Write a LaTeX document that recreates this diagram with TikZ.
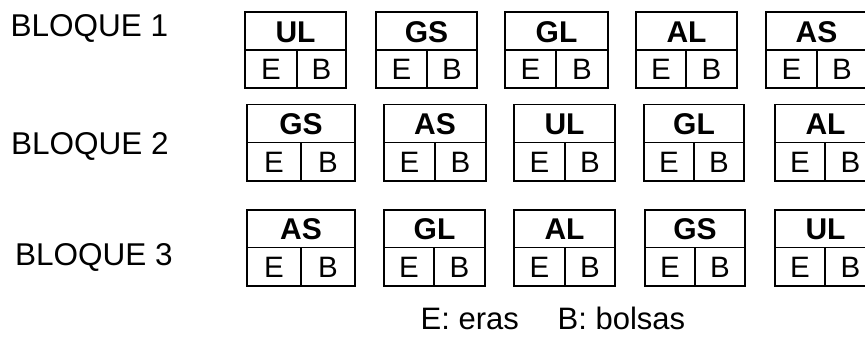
\documentclass[tikz,border=0pt]{standalone}
\usepackage{fontspec}
\setmainfont{Liberation Sans}
\newcommand\parcela[8]{%
  \draw[boxline] (#2,#5) rectangle (#4,#7);
  \draw[boxline] (#2,#6) -- (#4,#6);
  \draw[boxline] (#3,#6) -- (#3,#7);
  \node[toplbl] (#1) at ({(#2+#4)/2},{(#5+#6)/2+11}) {#8};
  \node[celllbl] (#1E) at ({(#2+#3)/2},{(#6+#7)/2+10.5}) {E};
  \node[celllbl] (#1B) at ({(#3+#4)/2},{(#6+#7)/2+10.5}) {B};
}
\begin{document}
\begin{tikzpicture}[x=1pt,y=-1pt,
  boxline/.style={line width=1.5pt},
  toplbl/.style={anchor=base,inner sep=0pt,font=\fontsize{30}{36}\selectfont\bfseries},
  celllbl/.style={anchor=base,inner sep=0pt,font=\fontsize{29.5}{35}\selectfont},
  rowlbl/.style={anchor=base west,inner sep=0pt,font=\fontsize{31.5}{38}\selectfont},
  legend/.style={anchor=base west,inner sep=0pt,font=\fontsize{31}{37}\selectfont}]
\useasboundingbox (0,0) rectangle (865,341);
\clip (0,0) rectangle (865,341);
% row labels
\node[rowlbl] (b1) at (10.5,36.7) {BLOQUE 1};
\node[rowlbl] (b2) at (11,154.3) {BLOQUE 2};
\node[rowlbl] (b3) at (15,265.3) {BLOQUE 3};
% row 1
\parcela{ra}{245}{297}{346}{12}{50}{88}{UL}
\parcela{rb}{376}{427}{477}{12}{50}{88}{GS}
\parcela{rc}{505}{556}{608}{12}{50}{88}{GL}
\parcela{rd}{636}{686}{737}{12}{50}{88}{AL}
\parcela{re}{766}{817}{867}{12}{50}{88}{AS}
% row 2
\parcela{sa}{247}{301}{355}{104.5}{142.7}{181}{GS}
\parcela{sb}{384}{435}{486}{104.5}{142.7}{181}{AS}
\parcela{sc}{514}{565}{615}{104.5}{142.7}{181}{UL}
\parcela{sd}{644}{694}{744}{104.5}{142.7}{181}{GL}
\parcela{se}{775}{825}{876}{104.5}{142.7}{181}{AL}
% row 3
\parcela{ta}{247}{301}{355}{210}{247.5}{286}{AS}
\parcela{tb}{384}{434}{485}{210}{247.5}{286}{GL}
\parcela{tc}{514}{565}{615}{210}{247.5}{286}{AL}
\parcela{td}{645}{695}{745}{210}{247.5}{286}{GS}
\parcela{te}{775}{825}{876}{210}{247.5}{286}{UL}
% legend
\node[legend] (le) at (420.5,329) {E: eras};
\node[legend] (lb) at (557.5,329) {B: bolsas};
\end{tikzpicture}
\end{document}
